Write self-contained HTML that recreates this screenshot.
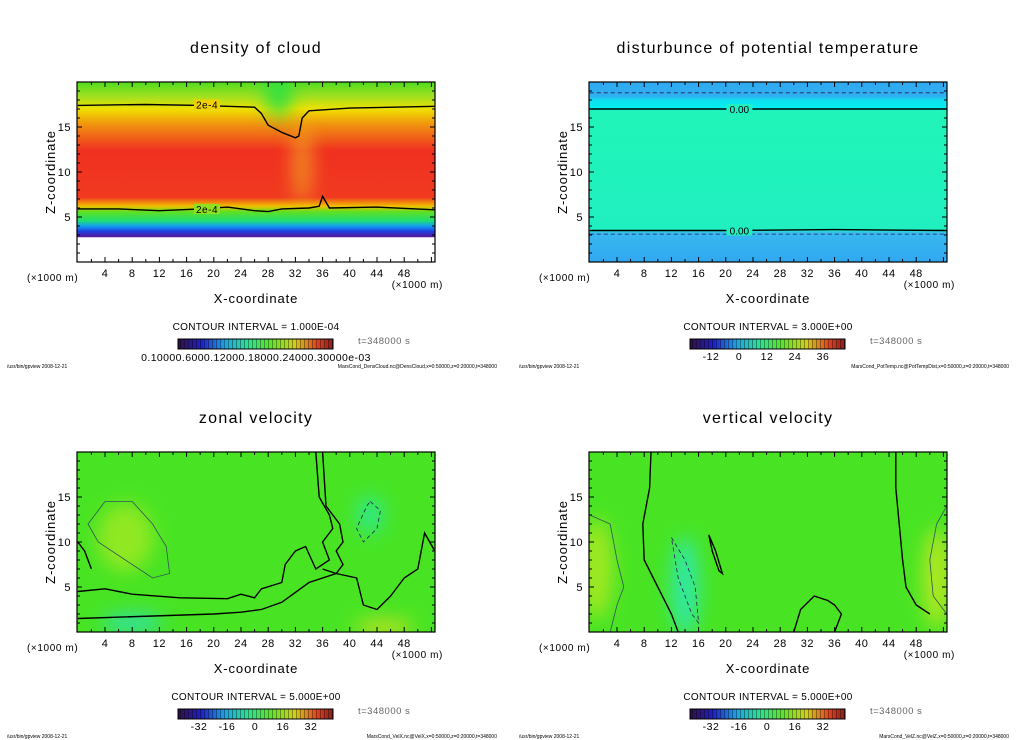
<!DOCTYPE html>
<html><head><meta charset="utf-8"><style>
html,body{margin:0;padding:0;background:#fff}
svg{display:block}
text{font-family:"Liberation Sans",sans-serif}
</style></head><body>
<svg id="root" width="1024" height="740" viewBox="0 0 1024 740" xmlns="http://www.w3.org/2000/svg">
<defs>
<linearGradient id="gCloud" x1="0" y1="1" x2="0" y2="0">
<stop offset="0" stop-color="#fff"/><stop offset="0.135" stop-color="#fff"/>
<stop offset="0.14" stop-color="#5a1a9a"/><stop offset="0.17" stop-color="#2040e0"/>
<stop offset="0.2" stop-color="#10a0f0"/><stop offset="0.23" stop-color="#20e070"/>
<stop offset="0.28" stop-color="#60e020"/><stop offset="0.31" stop-color="#f0c000"/>
<stop offset="0.36" stop-color="#f03a20"/><stop offset="0.62" stop-color="#f03020"/>
<stop offset="0.76" stop-color="#f09010"/><stop offset="0.85" stop-color="#f0e000"/>
<stop offset="0.92" stop-color="#a0e020"/><stop offset="1" stop-color="#50dc20"/>
</linearGradient>
<linearGradient id="gPot" x1="0" y1="1" x2="0" y2="0">
<stop offset="0" stop-color="#30a8f0"/><stop offset="0.16" stop-color="#38b8f0"/>
<stop offset="0.18" stop-color="#20f0c0"/><stop offset="0.84" stop-color="#20f4b8"/>
<stop offset="0.85" stop-color="#00f0f0"/><stop offset="0.9" stop-color="#10e0f0"/>
<stop offset="0.92" stop-color="#30b0f0"/><stop offset="1" stop-color="#30a8f0"/>
</linearGradient>
<filter id="blur" x="-100%" y="-100%" width="300%" height="300%"><feGaussianBlur stdDeviation="9"/></filter>
<linearGradient id="cbar" x1="0" x2="1" y1="0" y2="0">
<stop offset="0" stop-color="#301040"/><stop offset="0.15" stop-color="#2020c0"/>
<stop offset="0.3" stop-color="#20a0e0"/><stop offset="0.45" stop-color="#30e090"/>
<stop offset="0.6" stop-color="#60e030"/><stop offset="0.75" stop-color="#d0d020"/>
<stop offset="0.9" stop-color="#e04020"/><stop offset="1" stop-color="#802020"/>
</linearGradient>
<pattern id="stripes" width="4" height="10" patternUnits="userSpaceOnUse"><rect x="0" width="1" height="10" fill="#000" opacity="0.35"/></pattern>
</defs>
</svg>
<script>
const xTicks=[4,8,12,16,20,24,28,32,36,40,44,48];
const zTicks=[5,10,15];
const titles=["density of cloud","disturbunce of potential temperature","zonal velocity","vertical velocity"];
const intervals=["1.000E-04","3.000E+00","5.000E+00","5.000E+00"];
const cbLabels=[["0.10000.6000.12000.18000.24000.30000e-03"],["-12","0","12","24","36"],["-32","-16","0","16","32"],["-32","-16","0","16","32"]];
const footers=["MarsCond_DensCloud.nc@DensCloud,x=0:50000,z=0:20000,t=348000","MarsCond_PotTemp.nc@PotTempDist,x=0:50000,z=0:20000,t=348000","MarsCond_VelX.nc@VelX,x=0:50000,z=0:20000,t=348000","MarsCond_VelZ.nc@VelZ,x=0:50000,z=0:20000,t=348000"];
const cloudTop=[[0,17.4],[10,17.5],[18,17.4],[26,17.2],[27,16.5],[28,15.2],[30,14.4],[32,13.8],[32.5,14],[33,16],[34,16.8],[40,17.1],[52.5,17.3]];
const cloudBot=[[0,5.9],[6,5.9],[12,5.7],[18,5.9],[22,6.1],[26,5.7],[28,5.6],[30,5.9],[34,6.0],[35.5,6.2],[36,7.3],[37,6.0],[44,6.1],[52.5,5.8]];
const potTop=[[0,17],[52.5,17]];
const potBot=[[0,3.5],[20,3.5],[36,3.6],[52.5,3.5]];
const potDashTop=[[0,18.8],[52.5,18.8]];
const potDashBot=[[0,3.1],[52.5,3.1]];
const uLines=[[[35,20],[35.5,15],[37,13],[37.5,11.5],[36,10],[37,8],[35,7],[33.5,9.5],[32,9],[30.5,7.5],[30,5.5],[27,4.8],[26,3.8],[24,4.2],[22,3.7],[15,3.8],[8,4.2],[4,4.8],[0,4.5]],[[36,20],[36.5,14],[38.5,12],[39,10],[38,9],[39,7.5],[38,6.5],[34,5.5],[30,3.3],[27,2.5],[24,2.2],[20,2.0],[0,1.5]],[[52.5,9],[51,11],[50,7],[48,6],[47,5],[46,4],[44,2.5],[42,3],[41,6],[38,6.5],[36,7]],[[2,7],[1,9],[0,10]]];
const uThin=[[[4,14.5],[8,14.5],[11,12],[13,9.5],[13.5,6.5],[11,6],[8,7.5],[3,10],[1.5,12],[4,14.5]]];
const uDash=[[[43,14.5],[44.5,13.5],[44,11.5],[42,10],[41,11.5],[42.5,14],[43,14.5]]];
const wLines=[[[9,20],[8.8,16],[7.8,12],[8,8],[10,5],[12,2],[13,0]],[[45,20],[45,16],[45.5,12],[46,8],[46.5,5],[48,3],[50,2]],[[17.5,10.8],[18.5,9],[19.5,6.5],[19,6.8],[18,9],[17.5,10.8]],[[30,0],[31,2.5],[33,4],[35,3.5],[36,3],[37,2],[36,0]]];
const wDash=[[[12,10.5],[14,8],[15.5,5],[16,1],[15,2],[13,6],[12,10.5]]];
const wThin=[[[0,13],[3,12],[4,8],[5,5],[4,3],[3,0]],[[52.5,14],[51,12],[50,8],[50.5,4],[52.5,2]]];

const NS="http://www.w3.org/2000/svg";
const root=document.getElementById('root');
function el(tag,attrs,parent){const e=document.createElementNS(NS,tag);for(const k in attrs)e.setAttribute(k,attrs[k]);(parent||root).appendChild(e);return e;}
const W=358,H=180;
function sx(p,x){return p.x+0.8+x*6.8;}
function sz(p,z){return p.y+H-z*9;}
function path(p,pts){return pts.map((q,i)=>(i?'L':'M')+sx(p,q[0]).toFixed(1)+' '+sz(p,q[1]).toFixed(1)).join(' ');}
function txt(s,x,y,size,parent,anchor,fill,ls){const t=el('text',{x:x,y:y,'font-size':size,'text-anchor':anchor||'middle',fill:fill||'#000'},parent);if(ls)t.setAttribute('letter-spacing',ls);t.textContent=s;return t;}

const panels=[{x:77,y:82},{x:589,y:82},{x:77,y:452},{x:589,y:452}];
panels.forEach((p,i)=>{
  const g=el('g',{});
  
  
  const cp=el('clipPath',{id:'cp'+i},g);el('rect',{x:p.x,y:p.y,width:W,height:H},cp);
  const f=el('g',{'clip-path':'url(#cp'+i+')'},g);
  
  
  if(i==0){
    el('rect',{x:p.x,y:p.y,width:W,height:H,fill:'url(#gCloud)'},f);
    el('ellipse',{cx:sx(p,33),cy:sz(p,11),rx:10,ry:40,fill:'#f0c020',opacity:0.6,filter:'url(#blur)'},f);
    el('ellipse',{cx:sx(p,29.5),cy:sz(p,19),rx:13,ry:26,fill:'#30e040',filter:'url(#blur)'},f);
  } else if(i==1){
    el('rect',{x:p.x,y:p.y,width:W,height:H,fill:'url(#gPot)'},f);
  } else {
    el('rect',{x:p.x,y:p.y,width:W,height:H,fill:'#48e424'},f);
    if(i==2){
      el('ellipse',{cx:sx(p,7),cy:sz(p,10.5),rx:28,ry:34,fill:'#90e820',filter:'url(#blur)'},f);
      el('ellipse',{cx:sx(p,8),cy:sz(p,1),rx:30,ry:10,fill:'#30e0a0',filter:'url(#blur)'},f);
      el('ellipse',{cx:sx(p,45),cy:sz(p,0.5),rx:30,ry:8,fill:'#c0e020',filter:'url(#blur)'},f);
      el('ellipse',{cx:sx(p,43),cy:sz(p,13),rx:14,ry:20,fill:'#30e880',filter:'url(#blur)'},f);
    } else {
      el('ellipse',{cx:sx(p,14),cy:sz(p,5),rx:14,ry:50,fill:'#30e8a0',filter:'url(#blur)'},f);
      el('ellipse',{cx:sx(p,1),cy:sz(p,7),rx:16,ry:50,fill:'#a0e820',filter:'url(#blur)'},f);
      el('ellipse',{cx:sx(p,51),cy:sz(p,6),rx:14,ry:50,fill:'#b0e820',filter:'url(#blur)'},f);
    }
  }
  const lines=i==0?[cloudTop,cloudBot]:i==1?[potTop,potBot]:i==2?uLines:wLines;
  lines.forEach(l=>{const c=el('path',{d:path(p,l),fill:'none',stroke:'#000','stroke-width':1.4},f);
    
    });
  const dash=i==1?[potDashTop,potDashBot]:i==2?uDash:i==3?wDash:[];
  dash.forEach(l=>{el('path',{d:path(p,l),fill:'none',stroke:'#225','stroke-width':0.8,'stroke-dasharray':'4 3'},f);});
  const thin=i==2?uThin:i==3?wThin:[];
  thin.forEach(l=>{el('path',{d:path(p,l),fill:'none',stroke:'#355','stroke-width':0.8},f);});
  if(i==0){
    [0,1].forEach(k=>{const x=sx(p,19),y=sz(p,[17.5,5.9][k]);
      el('rect',{x:x-13,y:y-5,width:26,height:10,fill:k?'#90e020':'#f0d000'},f);txt('2e-4',x,y+4,10,f,'middle','#000','0.5');});
  }
  if(i==1){[17,3.5].forEach(z=>{const x=sx(p,22),y=sz(p,z);el('rect',{x:x-13,y:y-5,width:26,height:10,fill:'#20f0c0'},f);txt('0.00',x,y+4,10,f);});}
  el('rect',{x:p.x,y:p.y,width:W,height:H,fill:'none',stroke:'#000','stroke-width':1.2},g);
  for(let x=2;x<=52;x+=2){const X=sx(p,x),L=x%4==0?5:3;
    el('line',{x1:X,x2:X,y1:p.y+H,y2:p.y+H-L,stroke:'#000'},g);el('line',{x1:X,x2:X,y1:p.y,y2:p.y+L,stroke:'#000'},g);}
  for(let z=1;z<20;z++){const Y=sz(p,z),L=z%5==0?5:3;
    el('line',{x1:p.x,x2:p.x+L,y1:Y,y2:Y,stroke:'#000'},g);el('line',{x1:p.x+W,x2:p.x+W-L,y1:Y,y2:Y,stroke:'#000'},g);}
  xTicks.forEach(x=>{const t=txt(String(x),sx(p,x),p.y+H+15,11,g,'middle','#000','0.5');
    
    });
  zTicks.forEach(z=>{const t=txt(String(z),p.x-6,sz(p,z)+4,11,g,'end','#000','0.5');
    
    });
  const tt=txt(titles[i],p.x+179,p.y-29,16,g,'middle','#000','1.3');
  
  
  txt('(×1000 m)',p.x-50,p.y+H+19,10,g,'start','#000','0.6');
  txt('(×1000 m)',p.x+W+8,p.y+H+26,10,g,'end','#000','0.6');
  const xl=txt('X-coordinate',p.x+179,p.y+H+41,13,g,'middle','#000','0.9');
  
  
  const zl=txt('Z-coordinate',0,0,13,g,'middle','#000','0.9');
  zl.setAttribute('transform','translate('+(p.x-22)+','+(p.y+90)+') rotate(-90)');
  
  
  txt('CONTOUR INTERVAL = '+intervals[i],p.x+179,p.y+H+68,10,g,'middle','#000','0.3');
  const cb=el('g',{},g);
  
  
  el('rect',{x:p.x+101,y:p.y+H+77,width:155,height:10,fill:'url(#cbar)',stroke:'#000'},cb);
  el('rect',{x:p.x+101,y:p.y+H+77,width:155,height:10,fill:'url(#stripes)'},cb);
  const labs=cbLabels[i];
  if(labs.length==1) txt(labs[0],p.x+179,p.y+H+99,10.5,cb,'middle','#000','0.4');
  else labs.forEach((s,k)=>txt(s,p.x+122+k*28,p.y+H+98,10.5,cb,'middle','#000','0.5'));
  txt('t=348000 s',p.x+281,p.y+H+82,9.5,g,'start','#666','0.5');
  txt('/usr/bin/gpview   2008-12-21',p.x-70,p.y+H+106,5,g,'start');
  txt(footers[i],p.x+420,p.y+H+106,5,g,'end');
});
</script>
</body></html>
